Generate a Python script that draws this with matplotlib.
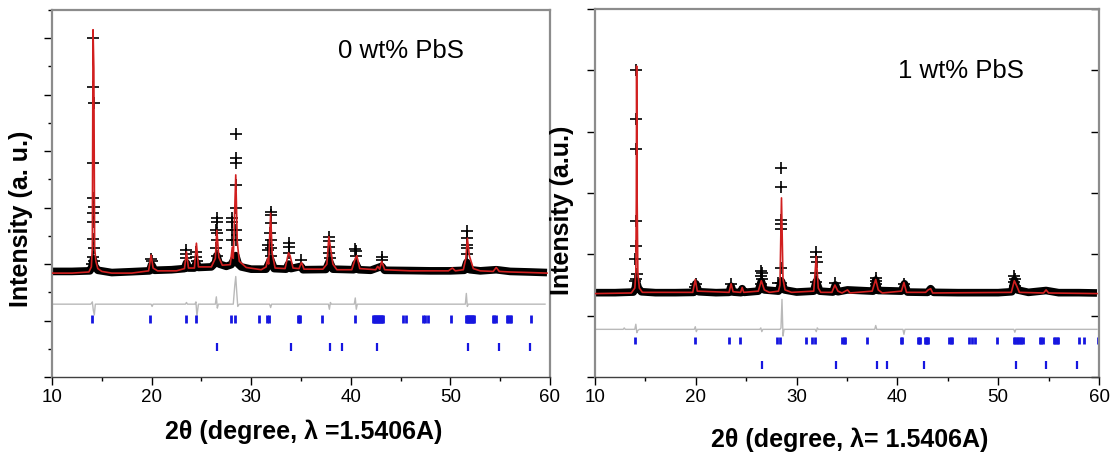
import matplotlib
matplotlib.use('Agg')
import matplotlib.pyplot as plt
from matplotlib.ticker import MultipleLocator, NullFormatter

plt.rcParams['font.family'] = ['Liberation Sans', 'DejaVu Sans']

# ---------------- Left panel: 0 wt% PbS ----------------
L_base_x = [10, 12, 13.8, 14.0, 14.15, 14.3, 14.6, 16, 18, 19.8, 20.0, 20.3, 22, 23.3, 23.5, 23.7,
            24.3, 24.5, 24.7, 26, 26.4, 26.55, 26.8, 27.5, 28.0, 28.2, 28.45, 28.7, 29, 30, 31.5,
            31.95, 32.3, 33.5, 33.75, 34.0, 35.0, 35.2, 37.5, 37.85, 38.2, 40.3, 40.5, 40.8, 42, 43.1,
            43.4, 46, 48, 50, 51.4, 51.65, 51.95, 53, 54.6, 56, 58, 59.7]
L_base_y = [1870, 1870, 1880, 1950, 2080, 1960, 1890, 1850, 1865, 1880, 1990, 1890, 1900, 1920, 2020, 1930,
            1930, 2030, 1940, 1950, 2020, 2150, 2000, 1960, 1990, 2060, 2150, 2000, 1950, 1910, 1910,
            2080, 1920, 1910, 2000, 1920, 1960, 1900, 1905, 2050, 1910, 1900, 2010, 1900, 1890, 1960,
            1890, 1885, 1880, 1880, 1890, 2030, 1900, 1880, 1900, 1870, 1860, 1850]

L_calc_x = [10.0, 12, 13.7, 13.95, 14.05, 14.12, 14.2, 14.28, 14.4, 14.6, 15, 16, 18, 19.7, 19.95,
            20.15, 20.6, 22.5, 23.3, 23.5, 23.7, 24.3, 24.5, 24.7, 26.0, 26.4, 26.55, 26.75, 27.1,
            27.9, 28.1, 28.2, 28.45, 28.6, 28.8, 29.5, 31.0, 31.5, 31.65, 31.75, 31.95, 32.1, 32.4,
            33.4, 33.75, 33.9, 34.2, 34.8, 35.05, 35.3, 37.2, 37.6, 37.8, 37.95, 38.2, 38.6, 40.1,
            40.45, 40.6, 40.9, 42.5, 42.7, 42.9, 43.1, 43.4, 46, 49.8, 50.2, 50.5, 51.3, 51.55, 51.7,
            51.9, 52.3, 53, 54.3, 54.6, 54.9, 56, 58, 59.7]
L_calc_y = [1840, 1840, 1860, 1950, 2300, 6150, 5470, 2300, 2050, 1920, 1870, 1840, 1840, 1880, 2160,
            1930, 1880, 1880, 1920, 2220, 1930, 1930, 2370, 1950, 1950, 2100, 2600, 2120, 1980,
            1990, 2300, 2100, 3580, 2400, 2050, 1940, 1900, 1950, 2100, 2000, 2900, 2200, 1930,
            1920, 2200, 2150, 1930, 1920, 2030, 1910, 1910, 2000, 2490, 2300, 2000, 1900, 1900,
            2100, 2150, 1920, 1900, 1960, 1910, 2050, 1900, 1880, 1880, 1930, 1880, 1900, 2100, 2460,
            2150, 1920, 1880, 1870, 1940, 1870, 1860, 1850, 1840]

L_obs_x = [14.15, 14.15, 14.18, 14.15, 14.12, 14.18, 14.15, 14.12, 14.12, 14.18, 14.1, 14.25, 14.0,
           19.98, 20.05, 23.5, 23.5, 23.45, 24.5, 24.5, 24.55,
           26.55, 26.55, 26.5, 26.6, 26.55, 26.5, 26.6,
           28.05, 28.05, 28.1, 28.05,
           28.45, 28.45, 28.45, 28.5, 28.45, 28.5, 28.5,
           31.65, 31.7, 31.95, 31.95, 31.95, 31.9, 32.0, 31.95, 32.0,
           33.75, 33.75, 33.8, 35.05, 37.8, 37.85, 37.8, 37.85, 37.9,
           40.45, 40.55, 40.5, 43.15, 43.1, 51.65, 51.65, 51.7, 51.65, 51.7]
L_obs_y = [6005, 5136, 4852, 3788, 3168, 3008, 2902, 2742, 2447, 2281, 2133, 2050, 2000,
           2086, 2050, 2250, 2180, 2100, 2220, 2130, 2050,
           2813, 2754, 2606, 2547, 2429, 2281, 2150,
           2813, 2754, 2606, 2429,
           4308, 3877, 3788, 3404, 2990, 2606, 2429,
           2340, 2250, 2931, 2872, 2724, 2547, 2429, 2281, 2150,
           2382, 2310, 2200, 2074, 2476, 2417, 2310, 2190, 2100,
           2263, 2240, 2150, 2133, 2080, 2577, 2459, 2340, 2281, 2180]

L_diff_x = [10, 13.9, 14.05, 14.15, 14.25, 14.35, 19.95, 20.05, 20.15, 23.4, 23.5, 23.6, 24.35, 24.45,
            24.55, 24.7, 26.4, 26.5, 26.6, 26.7, 28.2, 28.35, 28.45, 28.55, 28.65, 28.8, 31.85, 31.95,
            32.05, 37.75, 37.85, 37.95, 38.05, 40.35, 40.45, 40.55, 40.65, 51.5, 51.6, 51.7, 51.8,
            59.5]
L_diff_y = [1290, 1290, 1330, 1180, 1100, 1290, 1290, 1250, 1290, 1290, 1320, 1290, 1290, 1330,
            1080, 1290, 1290, 1420, 1220, 1290, 1290, 1620, 1780, 1500, 1250, 1290, 1290, 1230,
            1290, 1290, 1200, 1320, 1290, 1290, 1400, 1200, 1290, 1290, 1480, 1250, 1290,
            1290]

L_bragg1 = [13.98, 19.84, 23.42, 24.43, 28.02, 28.41, 30.82, 31.57, 31.82, 34.7, 34.8, 34.87, 37.06,
            40.44, 42.2, 42.3, 42.4, 42.5, 42.6, 42.7, 42.8, 42.9, 43.0, 43.1, 43.2, 45.2, 45.57,
            47.26, 47.4, 47.8, 50.06, 51.6, 51.7, 51.8, 51.9, 52.0, 52.1, 52.2, 52.3, 52.4,
            54.25, 54.4, 54.55, 55.65, 55.8, 55.95, 56.1, 58.1]
L_bragg2 = [26.6, 34.0, 37.96, 39.07, 42.66, 51.8, 54.87, 57.96]

# ---------------- Right panel: 1 wt% PbS ----------------
R_base_x = [10, 12, 13.8, 14.0, 14.1, 14.3, 14.6, 16, 18, 19.8, 20.0, 20.3, 22, 23.3, 23.5, 23.7,
            24.5, 24.6, 24.8, 26.2, 26.5, 26.8, 28.2, 28.5, 28.8, 30, 31.7, 31.95, 32.3, 33.6,
            33.85, 34.1, 35.05, 37.6, 37.85, 38.1, 40.4, 40.7, 41.0, 43.0, 43.3, 43.6, 46, 50,
            51.35, 51.6, 51.9, 53, 54.75, 56, 58, 59.8]
R_base_y = [1375, 1375, 1385, 1450, 1560, 1450, 1390, 1375, 1375, 1380, 1520, 1390, 1375, 1380, 1480, 1385,
            1375, 1440, 1380, 1400, 1560, 1420, 1400, 1560, 1420, 1385, 1400, 1560, 1400, 1385,
            1500, 1390, 1420, 1400, 1580, 1410, 1400, 1520, 1385, 1380, 1440, 1380, 1375, 1375,
            1390, 1580, 1420, 1380, 1410, 1375, 1375, 1370]

R_calc_x = [10, 13.6, 13.95, 14.05, 14.1, 14.13, 14.18, 14.25, 14.4, 14.7, 19.7, 19.95, 20.15, 23.3,
            23.5, 23.7, 24.45, 24.6, 24.75, 26.2, 26.5, 26.8, 27.3, 28.2, 28.35, 28.5, 28.65, 28.85,
            29.5, 31.7, 31.95, 32.15, 32.4, 33.5, 33.8, 34.1, 34.5, 35.05, 35.3, 37.5, 37.85, 38.1,
            38.5, 40.4, 40.65, 40.9, 42.8, 43.05, 43.3, 43.5, 51.3, 51.6, 51.85, 52.1, 54.5, 54.75,
            55, 59.8]
R_calc_y = [1360, 1370, 1450, 1700, 2910, 5070, 2910, 1700, 1450, 1380, 1380, 1590, 1400, 1380,
            1520, 1390, 1380, 1460, 1380, 1400, 1570, 1420, 1380, 1400, 1500, 2920, 1600, 1420,
            1380, 1400, 1970, 1450, 1380, 1380, 1500, 1400, 1370, 1420, 1370, 1400, 1590, 1420,
            1370, 1400, 1540, 1380, 1380, 1420, 1440, 1370, 1380, 1570, 1480, 1380, 1370, 1420,
            1370, 1360]

R_obs_x = [14.1, 14.1, 14.1, 14.1, 14.1, 14.0, 14.2, 14.1, 14.0,
           20.0, 19.95, 23.5,
           26.5, 26.55, 26.5, 26.6, 26.45,
           28.5, 28.5, 28.45, 28.45, 28.5, 28.5, 28.2, 28.45,
           31.95, 31.95, 32.0, 31.9, 31.95,
           33.85, 37.85, 37.85, 37.9, 40.7,
           51.6, 51.65, 51.6, 51.65]
R_obs_y = [5010, 4210, 3710, 2540, 2140, 1920, 1680, 1600, 1570,
           1520, 1470, 1510,
           1730, 1690, 1650, 1600, 1520,
           3400, 3100, 2560, 2490, 2410, 1780, 1540, 1540,
           2040, 1960, 1870, 1700, 1550,
           1530, 1620, 1560, 1510, 1510,
           1650, 1600, 1550, 1490]

R_diff_x = [10, 12.8, 12.9, 13.0, 13.95, 14.05, 14.15, 14.25, 14.4, 19.85, 19.95, 20.05, 20.15,
            26.35, 26.45, 26.55, 26.65, 28.35, 28.45, 28.55, 28.65, 28.75, 31.85, 31.95, 32.05,
            32.15, 37.75, 37.85, 37.95, 40.55, 40.65, 40.75, 51.55, 51.65, 51.75, 59.8]
R_diff_y = [777, 777, 800, 777, 777, 860, 723, 760, 777, 777, 820, 740, 777,
            777, 800, 740, 777, 777, 800, 1266, 668, 777, 777, 740, 800,
            777, 777, 840, 777, 777, 696, 777, 777, 730, 777, 777]

R_bragg1 = [13.93, 19.93, 23.3, 24.36, 28.1, 28.4, 30.9, 31.5, 31.8, 34.55, 34.7, 34.85, 37.0,
            40.36, 40.5, 42.05, 42.15, 42.25, 42.7, 42.8, 42.9, 43.0, 45.15, 45.3, 45.45,
            47.07, 47.37, 47.7, 49.9, 51.55, 51.7, 51.85, 52.0, 52.15, 52.3, 52.45,
            54.1, 54.25, 54.4, 55.5, 55.65, 55.8, 55.95, 58.0, 58.5, 59.9]
R_bragg2 = [26.6, 33.86, 38.0, 38.94, 42.67, 51.77, 54.75, 57.85]

OBS_C = 'black'
CALC_C = '#d11f1f'
DIFF_C = '#b9b9b9'
BRAGG_C = '#1616e0'

W, H = 1114, 457
fig = plt.figure(figsize=(W / 100, H / 100), dpi=100)
ax1 = fig.add_axes([52 / W, (H - 377) / H, (550 - 52) / W, (377 - 10) / H])
ax2 = fig.add_axes([595 / W, (H - 377) / H, (1099 - 595) / W, (377 - 9) / H])


def draw(ax, bx, by, cx, cy, ox, oy, dx, dy, b1, b2, b1y, b2y):
    ax.plot(bx, by, color=OBS_C, lw=5.5, solid_joinstyle='round', solid_capstyle='butt', zorder=2)
    ax.plot(ox, oy, '+', color=OBS_C, ms=8, mew=1.2, zorder=3)
    ax.plot(cx, cy, color=CALC_C, lw=1.2, zorder=4)
    ax.plot(dx, dy, color=DIFF_C, lw=1.0, zorder=2)
    ax.vlines(b1, b1y[0], b1y[1], color=BRAGG_C, lw=2.0, zorder=2)
    ax.vlines(b2, b2y[0], b2y[1], color=BRAGG_C, lw=1.6, zorder=2)
    ax.set_xlim(10, 60)
    ax.xaxis.set_major_locator(MultipleLocator(10))
    ax.xaxis.set_minor_locator(MultipleLocator(5))
    ax.yaxis.set_major_formatter(NullFormatter())
    ax.tick_params(axis='x', which='major', direction='out', length=6, width=1, labelsize=13.5, pad=3)
    ax.tick_params(axis='x', which='minor', direction='out', length=3, width=1)
    ax.tick_params(axis='y', which='major', direction='out', length=6, width=1)
    ax.tick_params(axis='y', which='minor', direction='out', length=3, width=1)
    for s in ['top', 'right', 'left']:
        ax.spines[s].set_color('#8c8c8c')
        ax.spines[s].set_linewidth(1.6)
    ax.spines['bottom'].set_color('#404040')
    ax.spines['bottom'].set_linewidth(1.0)


draw(ax1, L_base_x, L_base_y, L_calc_x, L_calc_y, L_obs_x, L_obs_y, L_diff_x, L_diff_y,
     L_bragg1, L_bragg2, (955, 1100), (460, 610))
ax1.set_ylim(0, 6500)
ax1.yaxis.set_major_locator(MultipleLocator(1000))
ax1.yaxis.set_minor_locator(MultipleLocator(500))

draw(ax2, R_base_x, R_base_y, R_calc_x, R_calc_y, R_obs_x, R_obs_y, R_diff_x, R_diff_y,
     R_bragg1, R_bragg2, (540, 655), (130, 260))
ax2.set_ylim(0, 6000)
ax2.yaxis.set_major_locator(MultipleLocator(1000))
ax2.yaxis.set_minor_locator(MultipleLocator(1000))
sec = ax2.secondary_yaxis('right')
sec.yaxis.set_major_locator(MultipleLocator(1000))
sec.yaxis.set_major_formatter(NullFormatter())
sec.tick_params(direction='in', length=6, width=1)
sec.spines['right'].set_visible(False)

ax1.set_xlabel('2θ (degree, λ =1.5406A)', fontsize=18, fontweight='bold')
ax1.xaxis.set_label_coords((304 - 52) / 498, (377 - 432) / 367)
ax1.xaxis.label.set_va('center')
ax2.set_xlabel('2θ (degree, λ= 1.5406A)', fontsize=18, fontweight='bold')
ax2.xaxis.set_label_coords((850 - 595) / 504, (377 - 440) / 368)
ax2.xaxis.label.set_va('center')

ax1.set_ylabel('Intensity (a. u.)', fontsize=18, fontweight='bold')
ax1.yaxis.set_label_coords((21 - 52) / 498, (377 - 219) / 367)
ax1.yaxis.label.set_va('center')
ax2.set_ylabel('Intensity (a.u.)', fontsize=18, fontweight='bold')
ax2.yaxis.set_label_coords((562 - 595) / 504, (377 - 210) / 368)
ax2.yaxis.label.set_va('center')

ax1.text((401 - 52) / 498, (377 - 51) / 367, '0 wt% PbS', transform=ax1.transAxes,
         fontsize=18.5, ha='center', va='center')
ax2.text((961 - 595) / 504, (377 - 71) / 368, '1 wt% PbS', transform=ax2.transAxes,
         fontsize=18.5, ha='center', va='center')

fig.savefig('out.png', dpi=100)
